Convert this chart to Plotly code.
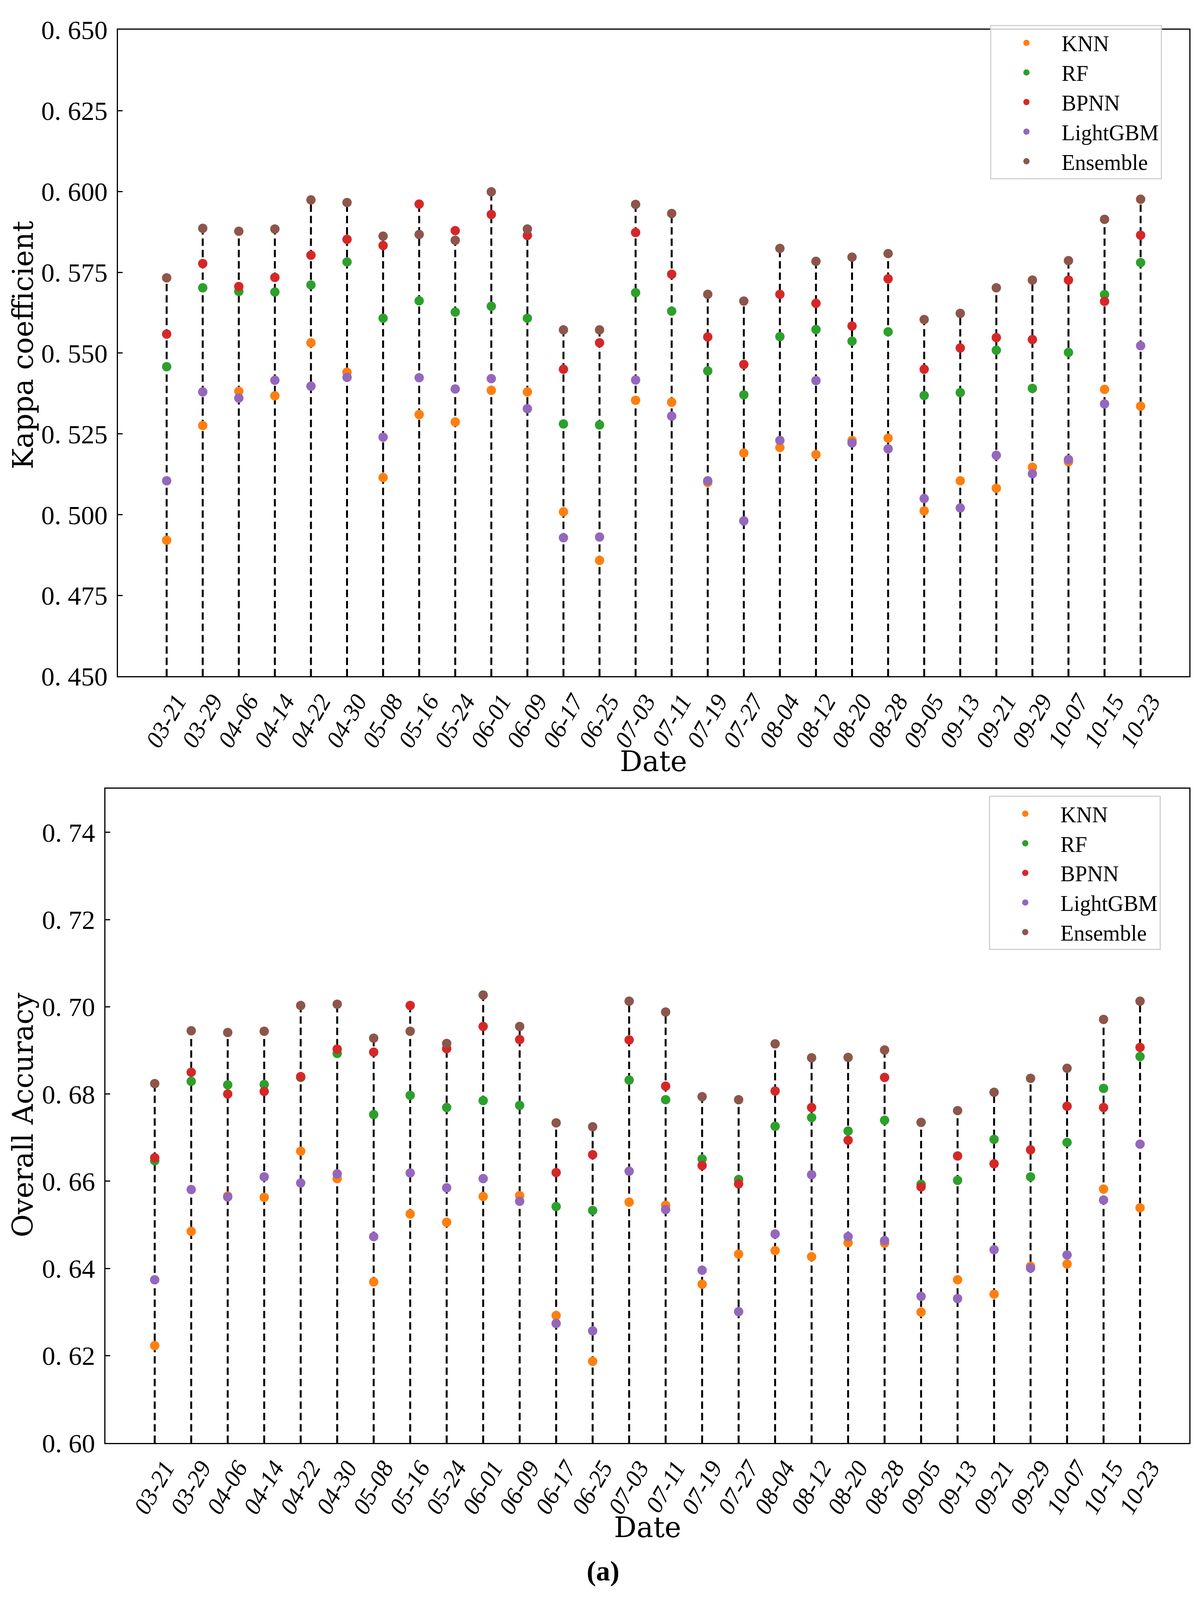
import plotly.graph_objects as go

# dates of the images
dates = ["03-21", "03-29", "04-06", "04-14", "04-22", "04-30", "05-08", "05-16", "05-24", "06-01",
         "06-09", "06-17", "06-25", "07-03", "07-11", "07-19", "07-27", "08-04", "08-12", "08-20",
         "08-28", "09-05", "09-13", "09-21", "09-29", "10-07", "10-15", "10-23"]

models = ["KNN", "RF", "BPNN", "LightGBM", "Ensemble"]
colors = ["#ff7f0e", "#2ca02c", "#d62728", "#9467bd", "#8c564b"]

# Kappa coefficient
kappa_knn = [0.4921, 0.5276, 0.5382, 0.5368, 0.5532, 0.5441, 0.5115, 0.5310, 0.5287, 0.5385,
             0.5380, 0.5009, 0.4859, 0.5354, 0.5348, 0.5100, 0.5191, 0.5208, 0.5186, 0.5230,
             0.5237, 0.5012, 0.5105, 0.5082, 0.5147, 0.5164, 0.5388, 0.5336]
kappa_rf = [0.5458, 0.5702, 0.5691, 0.5689, 0.5711, 0.5782, 0.5608, 0.5662, 0.5627, 0.5645,
            0.5608, 0.5281, 0.5278, 0.5687, 0.5630, 0.5445, 0.5371, 0.5551, 0.5573, 0.5537,
            0.5566, 0.5369, 0.5378, 0.5509, 0.5391, 0.5502, 0.5681, 0.5780]
kappa_bpnn = [0.5559, 0.5777, 0.5706, 0.5734, 0.5803, 0.5852, 0.5833, 0.5961, 0.5879, 0.5929,
              0.5864, 0.5450, 0.5532, 0.5873, 0.5744, 0.5550, 0.5465, 0.5682, 0.5654, 0.5584,
              0.5730, 0.5450, 0.5516, 0.5548, 0.5542, 0.5726, 0.5660, 0.5865]
kappa_lgbm = [0.5105, 0.5380, 0.5361, 0.5416, 0.5398, 0.5425, 0.5240, 0.5424, 0.5389, 0.5421,
              0.5328, 0.4929, 0.4931, 0.5417, 0.5305, 0.5105, 0.4981, 0.5230, 0.5415, 0.5222,
              0.5204, 0.5050, 0.5021, 0.5184, 0.5127, 0.5171, 0.5343, 0.5523]
kappa_ens = [0.5733, 0.5886, 0.5877, 0.5884, 0.5974, 0.5966, 0.5862, 0.5867, 0.5849, 0.5999,
             0.5884, 0.5572, 0.5572, 0.5960, 0.5932, 0.5682, 0.5661, 0.5824, 0.5784, 0.5797,
             0.5808, 0.5604, 0.5623, 0.5702, 0.5726, 0.5786, 0.5914, 0.5976]

# Overall accuracy
oa_knn = [0.6223, 0.6485, 0.6566, 0.6563, 0.6669, 0.6606, 0.6369, 0.6525, 0.6506, 0.6565,
          0.6567, 0.6292, 0.6187, 0.6552, 0.6545, 0.6364, 0.6433, 0.6441, 0.6427, 0.6459,
          0.6458, 0.6300, 0.6374, 0.6341, 0.6405, 0.6410, 0.6582, 0.6539]
oa_rf = [0.6647, 0.6829, 0.6821, 0.6822, 0.6838, 0.6893, 0.6753, 0.6797, 0.6769, 0.6785,
         0.6774, 0.6542, 0.6533, 0.6832, 0.6787, 0.6651, 0.6604, 0.6726, 0.6746, 0.6715,
         0.6740, 0.6593, 0.6602, 0.6696, 0.6610, 0.6689, 0.6813, 0.6886]
oa_bpnn = [0.6654, 0.6850, 0.6800, 0.6806, 0.6840, 0.6903, 0.6896, 0.7003, 0.6904, 0.6955,
           0.6925, 0.6620, 0.6661, 0.6924, 0.6818, 0.6636, 0.6594, 0.6807, 0.6769, 0.6694,
           0.6838, 0.6587, 0.6658, 0.6640, 0.6672, 0.6772, 0.6769, 0.6907]
oa_lgbm = [0.6374, 0.6581, 0.6564, 0.6610, 0.6596, 0.6617, 0.6473, 0.6619, 0.6585, 0.6606,
           0.6554, 0.6274, 0.6257, 0.6623, 0.6535, 0.6396, 0.6301, 0.6479, 0.6615, 0.6473,
           0.6464, 0.6336, 0.6331, 0.6443, 0.6401, 0.6431, 0.6557, 0.6685]
oa_ens = [0.6824, 0.6945, 0.6941, 0.6944, 0.7003, 0.7006, 0.6928, 0.6944, 0.6916, 0.7027,
          0.6955, 0.6734, 0.6725, 0.7013, 0.6988, 0.6794, 0.6787, 0.6915, 0.6883, 0.6884,
          0.6901, 0.6735, 0.6762, 0.6804, 0.6836, 0.6859, 0.6971, 0.7013]

kappa_ticks = [0.450, 0.475, 0.500, 0.525, 0.550, 0.575, 0.600, 0.625, 0.650]
kappa_labels = ["0. 450", "0. 475", "0. 500", "0. 525", "0. 550", "0. 575", "0. 600", "0. 625", "0. 650"]
oa_ticks = [0.60, 0.62, 0.64, 0.66, 0.68, 0.70, 0.72, 0.74]
oa_labels = ["0. 60", "0. 62", "0. 64", "0. 66", "0. 68", "0. 70", "0. 72", "0. 74"]

# reference frame (positions below are measured in it) and the drawn page
W, H = 3057, 4722
PAGE_H = 4096  # the photo of the page stops around here
TICK_FONT = "Liberation Serif"
TITLE_FONT = "DejaVu Serif"

fig = go.Figure()


def add_panel(series, ymin, xref, yref, legend):
    # dashed stems from the bottom of the axis to the highest value of each date
    xs, ys = [], []
    for i, d in enumerate(dates):
        top = max(s[i] for s in series)
        xs += [d, d, None]
        ys += [ymin, top, None]
    fig.add_scatter(x=xs, y=ys, mode="lines", xaxis=xref, yaxis=yref, showlegend=False,
                    line=dict(color="black", width=5, dash="19px,10px"), hoverinfo="skip")
    for name, col, vals in zip(models, colors, series):
        fig.add_scatter(x=dates, y=vals, mode="markers", name=name, xaxis=xref, yaxis=yref,
                        legend=legend, marker=dict(color=col, size=24, line=dict(width=0)))


add_panel([kappa_knn, kappa_rf, kappa_bpnn, kappa_lgbm, kappa_ens], 0.45, "x", "y", "legend")
add_panel([oa_knn, oa_rf, oa_bpnn, oa_lgbm, oa_ens], 0.60, "x2", "y2", "legend2")

xcommon = dict(type="category", categoryorder="array", categoryarray=dates,
               range=[-1.35, len(dates) - 1 + 1.35], showgrid=False, zeroline=False,
               showline=True, linecolor="black", linewidth=3, mirror=True,
               ticks="inside", ticklen=12, tickwidth=3, tickcolor="black",
               tickangle=-60, ticklabelstandoff=0, ticklabelshift=26, ticklabeloverflow="allow",
               tickfont=dict(family=TICK_FONT, size=62, color="black", style="italic"))
ycommon = dict(showgrid=False, zeroline=False, showline=True, linecolor="black", linewidth=3,
               mirror=True, ticks="inside", ticklen=12, tickwidth=3, tickcolor="black",
               ticklabelstandoff=10, ticklabeloverflow="allow",
               tickfont=dict(family=TICK_FONT, size=68, color="black"))

legend_common = dict(xanchor="left", yanchor="top", bgcolor="rgba(255,255,255,0.8)",
                     bordercolor="#d0d0d0", borderwidth=3, itemwidth=170,
                     font=dict(family=TICK_FONT, size=56, color="black"))

fig.update_layout(
    width=W, height=PAGE_H, autosize=False,
    margin=dict(l=0, r=0, t=0, b=0),
    paper_bgcolor="white", plot_bgcolor="white",
    xaxis=dict(xcommon, domain=[294 / W, 3037 / W], anchor="y"),
    yaxis=dict(ycommon, domain=[1 - 1981 / H, 1 - 37 / H], anchor="x",
               range=[0.45, 0.65], tickvals=kappa_ticks, ticktext=kappa_labels),
    xaxis2=dict(xcommon, domain=[262 / W, 3037 / W], anchor="y2"),
    yaxis2=dict(ycommon, domain=[1 - 4286 / H, 1 - 2319 / H], anchor="x2",
                range=[0.60, 0.75], tickvals=oa_ticks, ticktext=oa_labels),
    legend=dict(legend_common, x=2527 / W, y=1 - 22 / H),
    legend2=dict(legend_common, x=2524 / W, y=1 - 2340 / H),
)

title_font = dict(family=TITLE_FONT, size=72, color="black")
ytitle_font = dict(family=TITLE_FONT, size=72, color="black")
common_ann = dict(xref="paper", yref="paper", showarrow=False, xanchor="center", yanchor="middle")
fig.add_annotation(text="Kappa coefficient", x=51 / W, y=1 - 985 / H, textangle=-90,
                   font=ytitle_font, **common_ann)
fig.add_annotation(text="Overall Accuracy", x=51 / W, y=1 - 3300 / H, textangle=-90,
                   font=ytitle_font, **common_ann)
fig.add_annotation(text="Date", x=1665 / W, y=1 - 2236 / H, font=title_font, **common_ann)
fig.add_annotation(text="Date", x=1650 / W, y=1 - 4540 / H, font=title_font, **common_ann)
fig.add_annotation(text="<b>(a)</b>", x=1536 / W, y=1 - 4672 / H,
                   font=dict(family=TICK_FONT, size=72, color="black"), **common_ann)

fig.write_html("out.html")
